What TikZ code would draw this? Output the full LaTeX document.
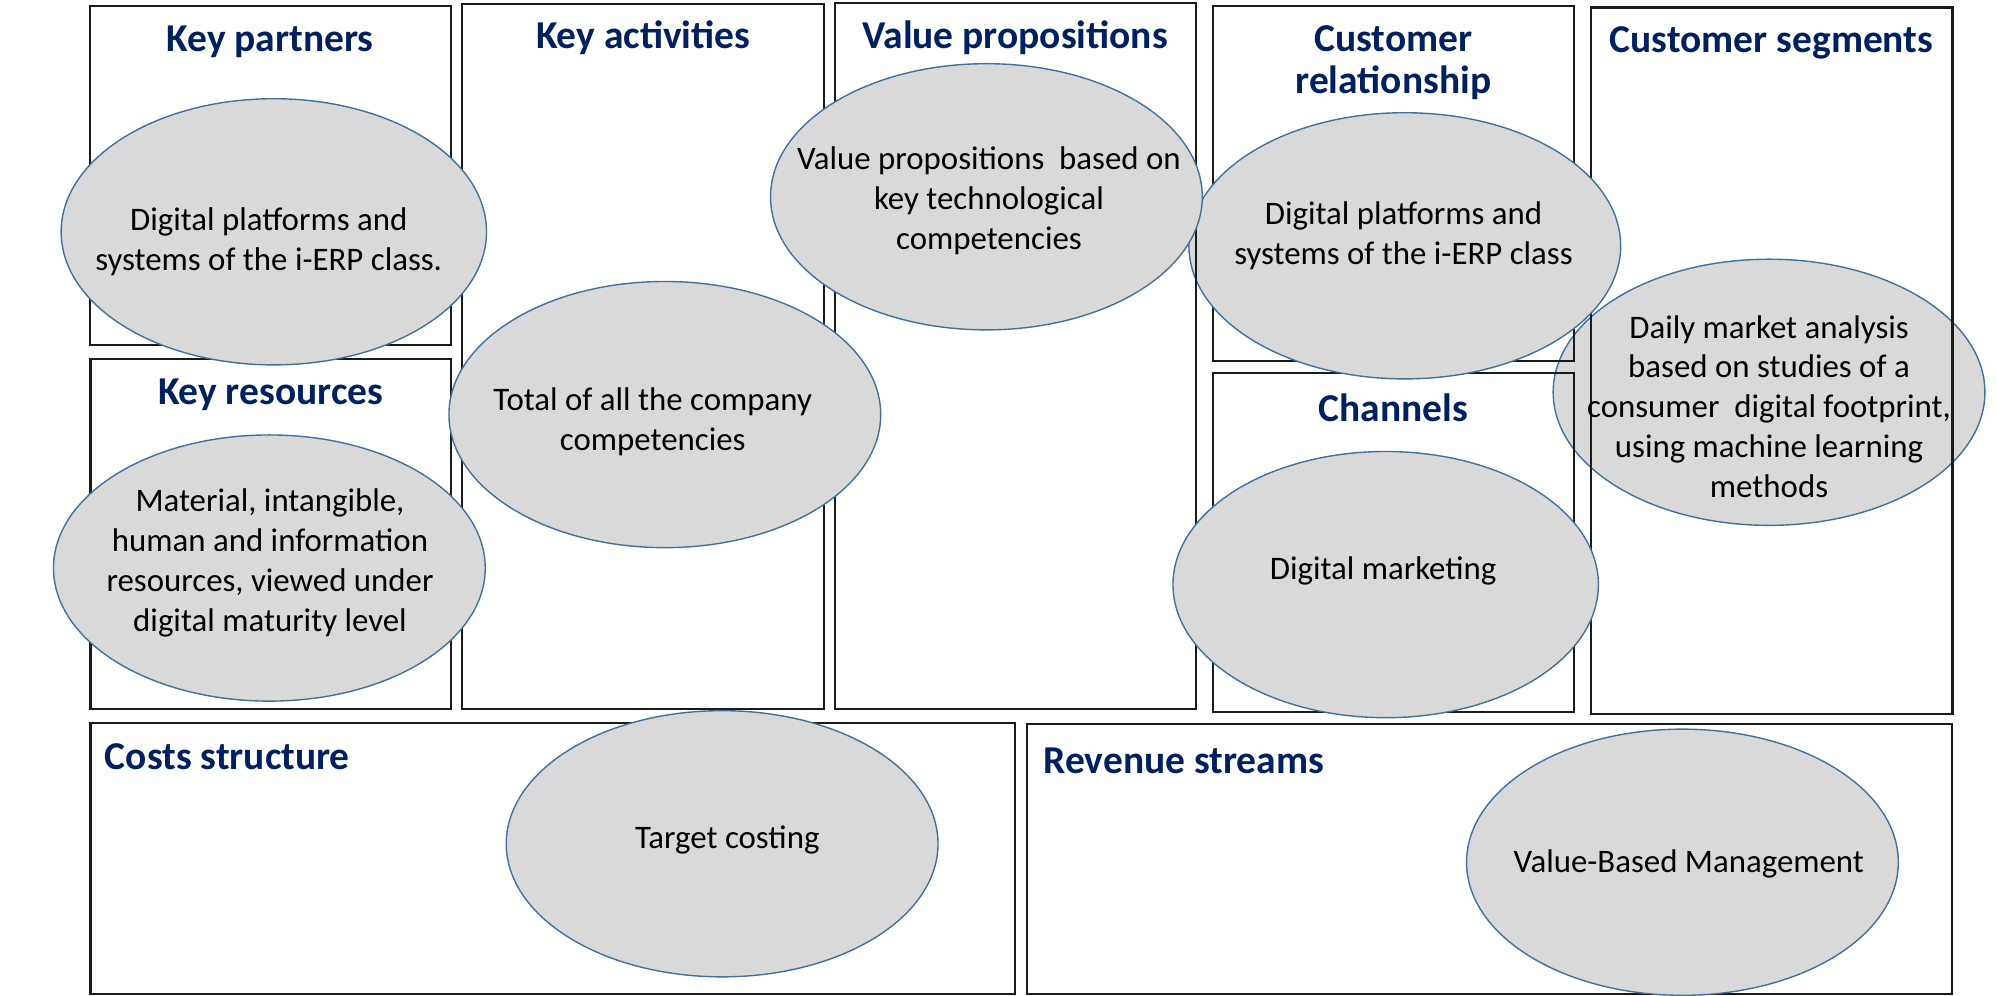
\documentclass[tikz,border=0pt]{standalone}
\usepackage{fontspec}
\setmainfont{Carlito}
\usetikzlibrary{shapes.geometric}
\definecolor{ttlblue}{HTML}{002060}
\definecolor{bubfill}{HTML}{D9D9D9}
\definecolor{bubline}{HTML}{41719C}
\definecolor{boxline}{HTML}{1A1A1A}
\tikzset{
  panel/.style={draw=boxline, line width=0.9pt},
  bubble/.style={ellipse, draw=bubline, fill=bubfill, line width=0.55pt, inner sep=0pt,
                 minimum width=169.5pt, minimum height=104.5pt},
  ttl/.style={text=ttlblue, font=\bfseries\fontsize{15.5}{16.5}\selectfont, inner sep=0pt, align=center},
  btext/.style={text=black, font=\fontsize{12.9}{15.6}\selectfont, inner sep=0pt, align=center}
}
\begin{document}
\begin{tikzpicture}[x=0.5pt, y=-0.5pt]
\useasboundingbox (0,0) rectangle (1568,782);
\fill[white] (0,0) rectangle (1568,782);

% --- bottom layer: customer segments bubble
\node[bubble] (csE) at (1389,308) {};

% --- right-side panels
\draw[panel] (952.5,4.7) rectangle (1236,283.5);
\draw[panel] (952.5,293) rectangle (1236,559);
\draw[panel] (1249,6) rectangle (1533,560.5);

% --- customer relationship bubble
\node[bubble] (crE) at (1103,193) {};

% --- remaining panels
\draw[panel] (70.5,4.5) rectangle (354,271);
\draw[panel] (71,282) rectangle (354,556.5);
\draw[panel] (363,3) rectangle (647,556.5);
\draw[panel] (655.5,2.6) rectangle (939,556.5);
\draw[panel] (71,567.5) rectangle (797,780.5);
\draw[panel] (806.5,568.6) rectangle (1532.5,780.5);

% --- titles
\node[ttl] (kpH) at (212,32.5) {Key partners};
\node[ttl] (kaH) at (505,30) {Key activities};
\node[ttl] (vpH) at (797,30) {Value propositions};
\node[ttl] (crH) at (1094,49.5) {Customer\\relationship};
\node[ttl] (csH) at (1391,34) {Customer segments};
\node[ttl] (krH) at (212.5,310) {Key resources};
\node[ttl] (chH) at (1094,320) {Channels};
\node[ttl, anchor=west] (coH) at (82,594) {Costs structure};
\node[ttl, anchor=west] (reH) at (819,597) {Revenue streams};

% --- upper bubbles
\node[bubble, minimum width=167pt] (kpE) at (215,182) {};
\node[bubble] (kaE) at (522,325.5) {};
\node[bubble] (krE) at (211.5,446) {};
\node[bubble] (vpE) at (774.5,154.5) {};
\node[bubble, minimum width=167pt] (chE) at (1088,459) {};
\node[bubble] (tcE) at (567,662.5) {};
\node[bubble] (vbE) at (1321,677) {};

% --- bubble texts
\node[btext] (kpT) at (211,190) {Digital platforms and\\systems of the i-ERP class.};
\node[btext] (kaT) at (512.5,331) {Total of all the company\\competencies};
\node[btext] (krT) at (212,442) {Material, intangible,\\human and information\\resources, viewed under\\digital maturity level};
\node[btext] (vpT) at (776.5,157.5) {Value propositions\ \ based on\\key technological\\competencies};
\node[btext] (crT) at (1102,185) {Digital platforms and\\systems of the i-ERP class};
\node[btext] (csT) at (1389,319) {Daily market analysis\\based on studies of a\\consumer\ \ digital footprint,\\using machine learning\\methods};
\node[btext] (chT) at (1086,448) {Digital marketing};
\node[btext] (tcT) at (571,659.5) {Target costing};
\node[btext] (vbT) at (1326,678) {Value-Based Management};
\end{tikzpicture}
\end{document}
